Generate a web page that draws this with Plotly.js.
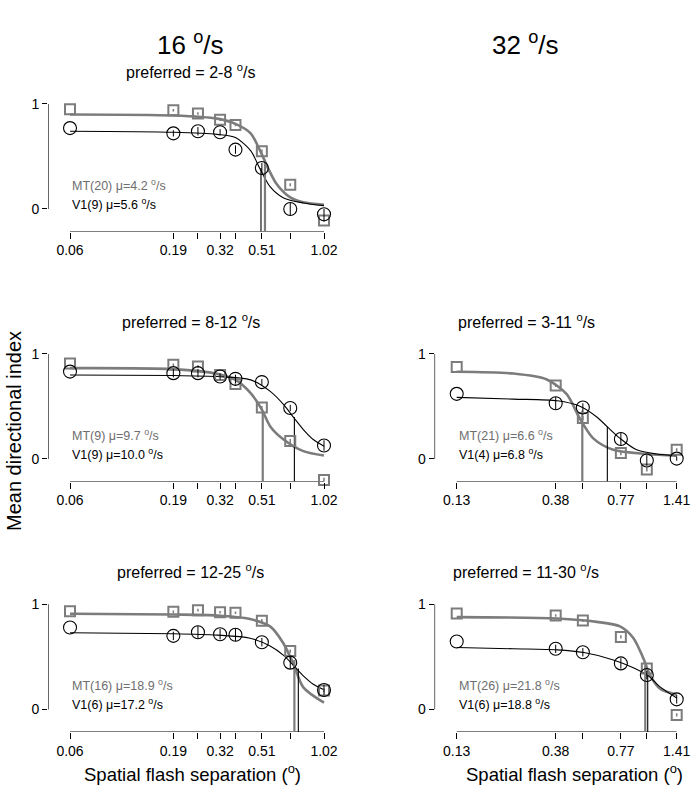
<!DOCTYPE html>
<html>
<head>
<meta charset="utf-8">
<script src="https://cdn.plot.ly/plotly-3.0.1.min.js"></script>
<style>
  html, body { margin: 0; padding: 0; background: #fff; }
  #chart { width: 697px; height: 791px; }
</style>
</head>
<body>
<div id="chart"></div>
<script>
// flash separations (deg) and tick labels
var xLeft = [0.06, 0.19, 0.25, 0.32, 0.38, 0.51, 0.70, 1.02];
var xLeftLabels = ['0.06', '0.19', '', '0.32', '', '0.51', '', '1.02'];
var xRight = [0.13, 0.38, 0.51, 0.77, 1.02, 1.41];
var xRightLabels = ['0.13', '0.38', '', '0.77', '', '1.41'];

// A: 16 deg/s, preferred 2-8
var mtA = [0.95, 0.94, 0.91, 0.85, 0.80, 0.55, 0.23, -0.11];
var v1A = [0.77, 0.72, 0.74, 0.73, 0.565, 0.39, 0.0, -0.05];
var mtErrA = [0, 0.012, 0.012, 0.012, 0.012, 0.015, 0.015, 0.015];
var v1ErrA = [0, 0.03, 0.04, 0.03, 0.04, 0.05, 0.06, 0.05];
var mtFitAx = [0.06, 0.19, 0.31, 0.38, 0.45, 0.50, 0.54, 0.60, 0.70, 0.81, 1.02];
var mtFitAy = [0.90, 0.89, 0.86, 0.81, 0.72, 0.555, 0.41, 0.24, 0.11, 0.063, 0.04];
var v1FitAx = [0.06, 0.19, 0.31, 0.38, 0.45, 0.50, 0.56, 0.65, 0.81, 1.02];
var v1FitAy = [0.74, 0.73, 0.71, 0.68, 0.555, 0.38, 0.21, 0.105, 0.057, 0.031];
var thrAx = [0.528, 0.505];
var thrAy = [0.47, 0.39];

// B: 16 deg/s, preferred 8-12
var mtB = [0.91, 0.896, 0.88, 0.80, 0.713, 0.49, 0.17, -0.2];
var v1B = [0.832, 0.817, 0.817, 0.785, 0.763, 0.732, 0.485, 0.128];
var mtErrB = [0, 0.012, 0.015, 0.012, 0.015, 0.015, 0.02, 0.02];
var v1ErrB = [0, 0.04, 0.04, 0.03, 0.04, 0.03, 0.03, 0.05];
var mtFitBx = [0.06, 0.19, 0.31, 0.38, 0.45, 0.51, 0.56, 0.65, 0.81, 1.02];
var mtFitBy = [0.865, 0.855, 0.81, 0.753, 0.627, 0.47, 0.31, 0.185, 0.074, 0.033];
var v1FitBx = [0.06, 0.19, 0.31, 0.45, 0.56, 0.65, 0.73, 0.81, 0.905, 1.02];
var v1FitBy = [0.80, 0.794, 0.785, 0.753, 0.643, 0.517, 0.39, 0.28, 0.185, 0.121];
var thrBx = [0.515, 0.733];
var thrBy = [0.45, 0.40];

// C: 32 deg/s, preferred 3-11
var mtC = [0.875, 0.70, 0.39, 0.056, -0.10, 0.087];
var v1C = [0.62, 0.53, 0.49, 0.19, -0.015, 0.003];
var mtErrC = [0, 0.015, 0.02, 0.02, 0.02, 0.015];
var v1ErrC = [0, 0.06, 0.04, 0.06, 0.05, 0.02];
var mtFitCx = [0.13, 0.24, 0.345, 0.428, 0.494, 0.571, 0.71, 1.02, 1.41];
var mtFitCy = [0.83, 0.813, 0.757, 0.617, 0.383, 0.196, 0.087, 0.047, 0.031];
var v1FitCx = [0.13, 0.24, 0.387, 0.494, 0.593, 0.665, 0.763, 0.914, 1.135, 1.41];
var v1FitCy = [0.586, 0.57, 0.554, 0.502, 0.40, 0.306, 0.196, 0.087, 0.047, 0.031];
var thrCx = [0.507, 0.665];
var thrCy = [0.46, 0.31];

// D: 16 deg/s, preferred 12-25
var mtD = [0.935, 0.93, 0.945, 0.925, 0.92, 0.845, 0.555, 0.18];
var v1D = [0.78, 0.70, 0.735, 0.716, 0.71, 0.64, 0.445, 0.185];
var mtErrD = [0, 0.012, 0.012, 0.012, 0.012, 0.015, 0.015, 0.02];
var v1ErrD = [0, 0.04, 0.06, 0.05, 0.06, 0.04, 0.06, 0.05];
var mtFitDx = [0.06, 0.19, 0.31, 0.447, 0.559, 0.648, 0.725, 0.81, 1.02];
var mtFitDy = [0.91, 0.903, 0.894, 0.86, 0.79, 0.63, 0.435, 0.21, 0.064];
var v1FitDx = [0.06, 0.19, 0.31, 0.447, 0.559, 0.648, 0.725, 0.81, 0.905, 1.02];
var v1FitDy = [0.73, 0.72, 0.707, 0.678, 0.603, 0.516, 0.42, 0.32, 0.24, 0.187];
var thrDx = [0.733, 0.766];
var thrDy = [0.47, 0.39];

// E: 32 deg/s, preferred 11-30
var mtE = [0.913, 0.894, 0.846, 0.69, 0.39, -0.052];
var v1E = [0.647, 0.577, 0.544, 0.438, 0.327, 0.096];
var mtErrE = [0, 0.012, 0.012, 0.015, 0.02, 0.015];
var v1ErrE = [0, 0.04, 0.04, 0.05, 0.04, 0.04];
var mtFitEx = [0.13, 0.387, 0.593, 0.763, 0.881, 0.982, 1.056, 1.177, 1.41];
var mtFitEy = [0.878, 0.865, 0.833, 0.79, 0.68, 0.487, 0.327, 0.198, 0.14];
var v1FitEx = [0.13, 0.24, 0.387, 0.516, 0.71, 0.881, 1.036, 1.177, 1.41];
var v1FitEy = [0.589, 0.577, 0.567, 0.541, 0.471, 0.397, 0.32, 0.214, 0.109];
var thrEx = [1.003, 1.03];
var thrEy = [0.42, 0.33];

var panelTitles = ['preferred = 2-8 <sup>o</sup>/s', 'preferred = 8-12 <sup>o</sup>/s',
  'preferred = 3-11 <sup>o</sup>/s', 'preferred = 12-25 <sup>o</sup>/s', 'preferred = 11-30 <sup>o</sup>/s'];
var mtLabels = ['MT(20) \u03bc=4.2 <sup>o</sup>/s', 'MT(9) \u03bc=9.7 <sup>o</sup>/s',
  'MT(21) \u03bc=6.6 <sup>o</sup>/s', 'MT(16) \u03bc=18.9 <sup>o</sup>/s', 'MT(26) \u03bc=21.8 <sup>o</sup>/s'];
var v1Labels = ['V1(9) \u03bc=5.6 <sup>o</sup>/s', 'V1(9) \u03bc=10.0 <sup>o</sup>/s',
  'V1(4) \u03bc=6.8 <sup>o</sup>/s', 'V1(6) \u03bc=17.2 <sup>o</sup>/s', 'V1(6) \u03bc=18.8 <sup>o</sup>/s'];

var W = 697, H = 791;
var GRAY = '#7c7c7c';
var FONT = 'Liberation Sans, Arial, Helvetica, sans-serif';
var yRange = [-0.215, 1.07];

// pixel boxes of each panel (left, right, top, bottom)
var panels = [
  {px: [48, 335], py: [96.6, 231.5], xs: xLeft, xl: xLeftLabels, xr: [-1.3285, 0.0619], tx: 190,
   mt: mtA, v1: v1A, mtE: mtErrA, v1E: v1ErrA, mfx: mtFitAx, mfy: mtFitAy, vfx: v1FitAx, vfy: v1FitAy, tx2: thrAx, ty2: thrAy},
  {px: [48, 335], py: [346.6, 481.5], xs: xLeft, xl: xLeftLabels, xr: [-1.3285, 0.0619], tx: 191,
   mt: mtB, v1: v1B, mtE: mtErrB, v1E: v1ErrB, mfx: mtFitBx, mfy: mtFitBy, vfx: v1FitBx, vfy: v1FitBy, tx2: thrBx, ty2: thrBy},
  {px: [434.5, 688], py: [346.6, 481.5], xs: xRight, xl: xRightLabels, xr: [-0.9906, 0.2024], tx: 526,
   mt: mtC, v1: v1C, mtE: mtErrC, v1E: v1ErrC, mfx: mtFitCx, mfy: mtFitCy, vfx: v1FitCx, vfy: v1FitCy, tx2: thrCx, ty2: thrCy},
  {px: [48, 335], py: [597, 732], xs: xLeft, xl: xLeftLabels, xr: [-1.3285, 0.0619], tx: 190,
   mt: mtD, v1: v1D, mtE: mtErrD, v1E: v1ErrD, mfx: mtFitDx, mfy: mtFitDy, vfx: v1FitDx, vfy: v1FitDy, tx2: thrDx, ty2: thrDy},
  {px: [434.5, 688], py: [597, 732], xs: xRight, xl: xRightLabels, xr: [-0.9906, 0.2024], tx: 526,
   mt: mtE, v1: v1E, mtE: mtErrE, v1E: v1ErrE, mfx: mtFitEx, mfy: mtFitEy, vfx: v1FitEx, vfy: v1FitEy, tx2: thrEx, ty2: thrEy}
];

var data = [];
var layout = {
  width: W, height: H,
  margin: {l: 0, r: 0, t: 0, b: 0},
  paper_bgcolor: '#fff', plot_bgcolor: 'rgba(0,0,0,0)',
  showlegend: false,
  font: {family: FONT, color: '#000'},
  annotations: []
};

panels.forEach(function(p, i) {
  var n = i + 1;
  var xa = 'x' + (n === 1 ? '' : n), ya = 'y' + (n === 1 ? '' : n);
  var xk = 'xaxis' + (n === 1 ? '' : n), yk = 'yaxis' + (n === 1 ? '' : n);
  var dx = [p.px[0] / W, p.px[1] / W];
  var dy = [1 - p.py[1] / H, 1 - p.py[0] / H];
  var xFirst = p.xs[0], xLast = p.xs[p.xs.length - 1];
  var xEdge = Math.pow(10, p.xr[0]);

  layout[xk] = {
    type: 'log', domain: dx, range: p.xr, anchor: ya,
    tickmode: 'array', tickvals: p.xs, ticktext: p.xl,
    ticks: 'outside', ticklen: 6, tickwidth: 1, tickcolor: '#000',
    showline: false, showgrid: false, zeroline: false,
    tickfont: {size: 14, family: FONT, color: '#000'}
  };
  layout[yk] = {
    domain: dy, range: yRange, anchor: xa,
    tickmode: 'array', tickvals: [0, 1], ticktext: ['0', '1'],
    ticks: 'outside', ticklen: 5, tickwidth: 1, tickcolor: '#000',
    showline: false, showgrid: false, zeroline: false,
    tickfont: {size: 14, family: FONT, color: '#000'}
  };

  // detached axis lines (first..last tick, 0..1), drawn as one-sided error bars
  data.push({x: [xFirst], y: [yRange[0]], xaxis: xa, yaxis: ya, mode: 'markers', cliponaxis: false,
    marker: {size: 1, color: 'rgba(0,0,0,0)'}, hoverinfo: 'skip',
    error_x: {type: 'data', symmetric: false, array: [xLast - xFirst], arrayminus: [0],
      width: 0, thickness: 1.2, color: '#000'}});
  data.push({x: [xEdge], y: [0], xaxis: xa, yaxis: ya, mode: 'markers', cliponaxis: false,
    marker: {size: 1, color: 'rgba(0,0,0,0)'}, hoverinfo: 'skip',
    error_y: {type: 'data', symmetric: false, array: [1], arrayminus: [0],
      width: 0, thickness: 1.2, color: '#000'}});

  // fitted curves
  data.push({x: p.mfx, y: p.mfy, xaxis: xa, yaxis: ya, mode: 'lines',
    line: {color: GRAY, width: 2.6, shape: 'spline', smoothing: 0.8}, hoverinfo: 'skip'});
  data.push({x: p.vfx, y: p.vfy, xaxis: xa, yaxis: ya, mode: 'lines',
    line: {color: '#000', width: 1.1, shape: 'spline', smoothing: 0.8}, hoverinfo: 'skip'});

  // threshold drop lines
  data.push({x: [p.tx2[0], p.tx2[0]], y: [yRange[0], p.ty2[0]], xaxis: xa, yaxis: ya, mode: 'lines',
    line: {color: GRAY, width: 2.2}, hoverinfo: 'skip'});
  data.push({x: [p.tx2[1], p.tx2[1]], y: [yRange[0], p.ty2[1]], xaxis: xa, yaxis: ya, mode: 'lines',
    line: {color: '#000', width: 1.1}, hoverinfo: 'skip'});

  // data points
  data.push({x: p.xs, y: p.mt, xaxis: xa, yaxis: ya, mode: 'markers', cliponaxis: false,
    marker: {symbol: 'square-open', size: 10, color: GRAY, line: {width: 2, color: GRAY}},
    error_y: {type: 'data', array: p.mtE, color: GRAY, thickness: 1.5, width: 0}});
  data.push({x: p.xs, y: p.v1, xaxis: xa, yaxis: ya, mode: 'markers', cliponaxis: false,
    marker: {symbol: 'circle-open', size: 13, color: '#000', line: {width: 1.1, color: '#000'}},
    error_y: {type: 'data', array: p.v1E, color: '#000', thickness: 1, width: 0}});

  // panel title
  layout.annotations.push({xref: 'paper', yref: 'paper', x: p.tx / W, y: 1 - (p.py[0] - 26) / H,
    text: panelTitles[i], showarrow: false, xanchor: 'center', yanchor: 'middle',
    font: {size: 16, family: FONT, color: '#000'}});

  // legend text
  layout.annotations.push({xref: xa, yref: ya, x: Math.log10(xFirst), y: 0.23,
    text: mtLabels[i], showarrow: false, xanchor: 'left', yanchor: 'middle',
    font: {size: 12.5, family: FONT, color: '#6e6e6e'}});
  layout.annotations.push({xref: xa, yref: ya, x: Math.log10(xFirst), y: 0.05,
    text: v1Labels[i], showarrow: false, xanchor: 'left', yanchor: 'middle',
    font: {size: 12.5, family: FONT, color: '#000'}});
});

// column headers and axis titles
layout.annotations.push(
  {xref: 'paper', yref: 'paper', x: 190 / W, y: 1 - 44 / H, text: '16 <sup>o</sup>/s', showarrow: false,
   xanchor: 'center', yanchor: 'middle', font: {size: 26, family: FONT, color: '#000'}},
  {xref: 'paper', yref: 'paper', x: 525 / W, y: 1 - 44 / H, text: '32 <sup>o</sup>/s', showarrow: false,
   xanchor: 'center', yanchor: 'middle', font: {size: 26, family: FONT, color: '#000'}},
  {xref: 'paper', yref: 'paper', x: 14 / W, y: 1 - 431 / H, text: 'Mean directional index', showarrow: false,
   textangle: -90, xanchor: 'center', yanchor: 'middle', font: {size: 20, family: FONT, color: '#000'}},
  {xref: 'paper', yref: 'paper', x: 192 / W, y: 1 - 773 / H, text: 'Spatial flash separation (<sup>o</sup>)',
   showarrow: false, xanchor: 'center', yanchor: 'middle', font: {size: 18.5, family: FONT, color: '#000'}},
  {xref: 'paper', yref: 'paper', x: 574 / W, y: 1 - 773 / H, text: 'Spatial flash separation (<sup>o</sup>)',
   showarrow: false, xanchor: 'center', yanchor: 'middle', font: {size: 18.5, family: FONT, color: '#000'}}
);

Plotly.newPlot('chart', data, layout, {staticPlot: true, displayModeBar: false});
</script>
</body>
</html>
